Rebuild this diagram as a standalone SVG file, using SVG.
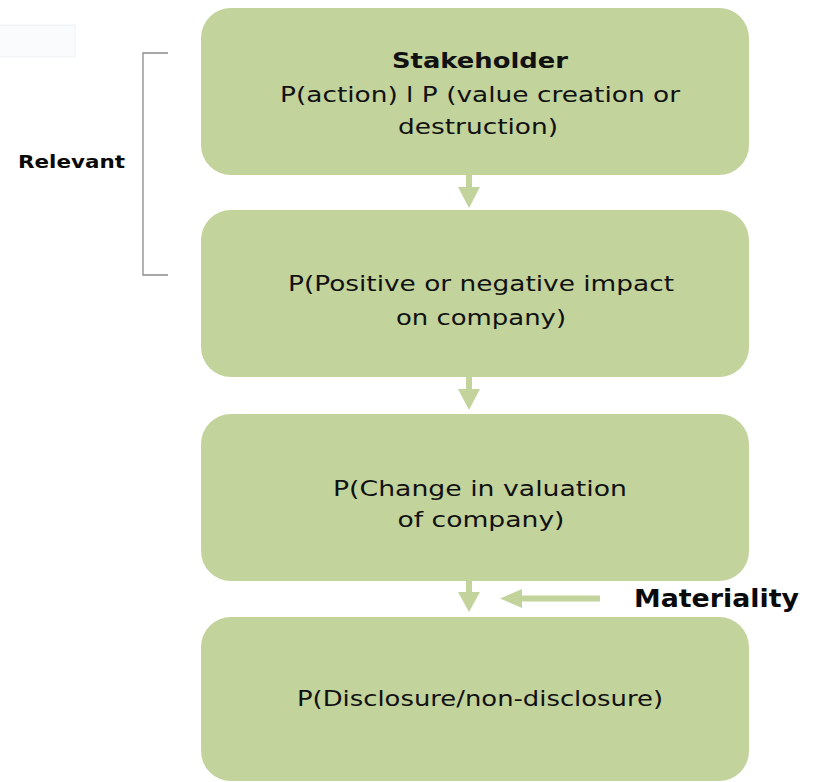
<svg xmlns="http://www.w3.org/2000/svg" width="813" height="782" viewBox="0 0 813 782">
  <style>
    .box { fill: #c2d39c; }
    .flow { fill: #c2d39c; }
    .t { font-family: "DejaVu Sans", "Noto Sans", sans-serif; font-size: 22px; fill: #111111; text-anchor: middle; }
    .b { font-weight: bold; }
    .side { font-family: "DejaVu Sans", "Noto Sans", sans-serif; font-weight: bold; fill: #0a0a0a; }
  </style>
  <rect width="813" height="782" fill="#ffffff"/>
  <!-- pale empty panel, top left -->
  <rect x="-1" y="25" width="76" height="32" fill="#f9fbfd" stroke="#eef2f6" stroke-width="1"/>

  <!-- connectors -->
  <g id="connectors">
    <path class="flow" d="M466 175 H472 V187 H480 L469 208 L458 187 H466 Z"/>
    <path class="flow" d="M466 377 H472 V389 H480 L469 410 L458 389 H466 Z"/>
    <path class="flow" d="M466 581 H472 V592 H480 L469 612 L458 592 H466 Z"/>
    <path class="flow" d="M600 595.5 V601.5 H522 V608 L500 598.5 L522 589 V595.5 Z"/>
  </g>

  <!-- bracket grouping the first two steps -->
  <g id="relevant">
    <path d="M168 53 H143 V275 H168" fill="none" stroke="#8a8a8a" stroke-width="1.3"/>
    <text class="side" x="18" y="168" font-size="18" textLength="107" lengthAdjust="spacingAndGlyphs">Relevant</text>
  </g>

  <g id="stakeholder">
    <rect class="box" x="201" y="8" width="548" height="167" rx="30"/>
    <text class="t b" x="480" y="68" textLength="176" lengthAdjust="spacingAndGlyphs">Stakeholder</text>
    <text class="t" x="480" y="102" textLength="400" lengthAdjust="spacingAndGlyphs">P(action) l P (value creation or</text>
    <text class="t" x="478" y="134" textLength="160" lengthAdjust="spacingAndGlyphs">destruction)</text>
  </g>

  <g id="impact">
    <rect class="box" x="201" y="210" width="548" height="167" rx="30"/>
    <text class="t" x="481" y="291" textLength="386" lengthAdjust="spacingAndGlyphs">P(Positive or negative impact</text>
    <text class="t" x="481" y="325" textLength="170" lengthAdjust="spacingAndGlyphs">on company)</text>
  </g>

  <g id="valuation">
    <rect class="box" x="201" y="414" width="548" height="167" rx="30"/>
    <text class="t" x="480" y="496" textLength="294" lengthAdjust="spacingAndGlyphs">P(Change in valuation</text>
    <text class="t" x="481" y="527" textLength="167" lengthAdjust="spacingAndGlyphs">of company)</text>
  </g>

  <g id="disclosure">
    <rect class="box" x="201" y="617" width="548" height="164" rx="30"/>
    <text class="t" x="480" y="706" textLength="366" lengthAdjust="spacingAndGlyphs">P(Disclosure/non-disclosure)</text>
  </g>

  <g id="materiality">
    <text class="side" x="634" y="607" font-size="24" textLength="165" lengthAdjust="spacingAndGlyphs">Materiality</text>
  </g>
</svg>
